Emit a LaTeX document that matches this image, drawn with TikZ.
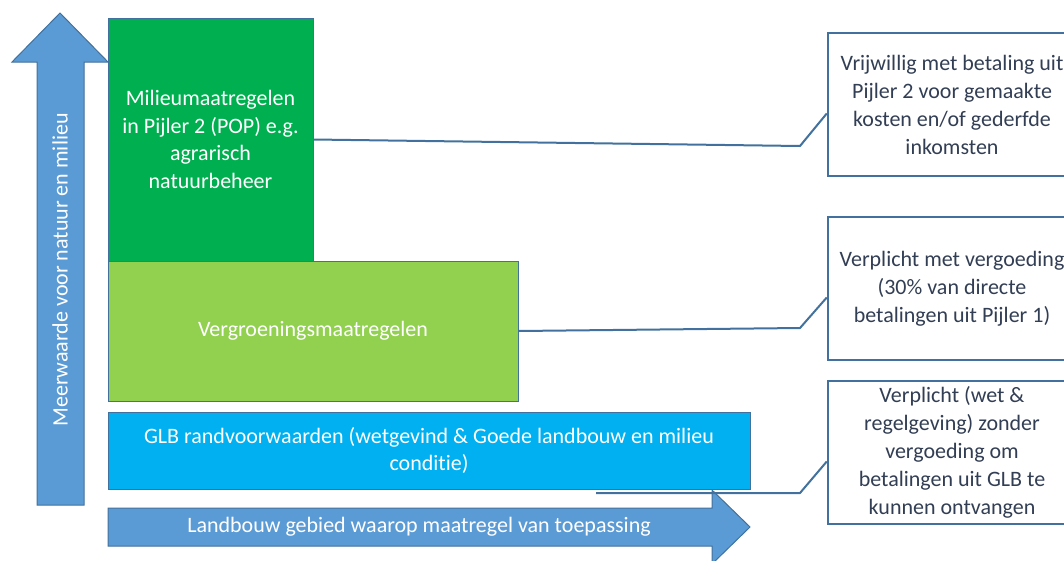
\documentclass[tikz,border=0pt]{standalone}
\usepackage{fontspec}
\setmainfont{Carlito}[Ligatures=NoCommon]
\usetikzlibrary{calc}
\definecolor{arrowblue}{RGB}{91,155,213}
\definecolor{edgeblue}{RGB}{65,113,156}
\definecolor{popgreen}{RGB}{0,176,80}
\definecolor{lightgreen}{RGB}{146,208,80}
\definecolor{glbblue}{RGB}{0,176,240}
\definecolor{notetext}{RGB}{50,62,84}
\tikzset{
  block/.style={
    draw=edgeblue,
    line width=1pt,
    text=white,
    align=center,
    inner sep=0pt,
    font=\fontsize{22}{27.5}\selectfont
  },
  arrowtext/.style={
    text=white,
    inner sep=0pt,
    font=\fontsize{22}{27.5}\selectfont
  },
  note/.style={
    draw=edgeblue,
    line width=2.5pt,
    fill=white,
    text=notetext,
    align=center,
    minimum width=248pt,
    minimum height=143pt,
    inner sep=0pt,
    font=\fontsize{22}{28}\selectfont
  },
  link/.style={draw=edgeblue, line width=2pt, line join=round},
  bigarrow/.style={fill=arrowblue, draw=edgeblue, line width=1pt}
}

\begin{document}
\begin{tikzpicture}[x=1pt,y=-1pt]
  \useasboundingbox (0,0) rectangle (1064,560);
  % the two axis arrows
  \draw[bigarrow] (37,505) -- (37,62) -- (12,62) -- (60,13) -- (108,62)
    -- (84,62) -- (84,505) -- cycle;
  \draw[bigarrow] (108,508) -- (712,508) -- (712,490) -- (750,527)
    -- (712,564) -- (712,546) -- (108,546) -- cycle;
  \node[arrowtext, rotate=90] (meer) at (60,270) {Meerwaarde voor natuur en milieu};
  \node[arrowtext] (land) at (419,527) {Landbouw gebied waarop maatregel van toepassing};

  % the stacked measures
  \node[block, fill=popgreen, minimum width=205pt, minimum height=243pt] (pop)
    at (210.5,139.5) {Milieumaatregelen\\in Pijler 2 (POP) e.g.\\agrarisch\\natuurbeheer};
  \node[block, fill=lightgreen, minimum width=410pt, minimum height=140pt] (verg)
    at (313,331) {Vergroeningsmaatregelen};
  \node[block, fill=glbblue, minimum width=642pt, minimum height=77pt] (glb)
    at (429,450.5) {GLB randvoorwaarden (wetgevind \& Goede landbouw en milieu\\conditie)};

  % notes on the right
  \coordinate (k1) at (800,146);
  \coordinate (k2) at (800,328);
  \coordinate (g3) at (596,493);
  \coordinate (k3) at (800,493);
  \node[note] (c1) at (952,104.5) {Vrijwillig met betaling uit\\Pijler 2 voor gemaakte\\kosten en/of gederfde\\inkomsten};
  \node[note] (c2) at (952,288.5) {Verplicht met vergoeding\\(30\% van directe\\betalingen uit Pijler 1)};
  \node[note] (c3) at (952,452.5) {Verplicht (wet \&\\regelgeving) zonder\\vergoeding om\\betalingen uit GLB te\\kunnen ontvangen};
  \draw[link] (pop.east) -- (k1) -- ([yshift=-9pt]c1.west);
  \draw[link] (verg.east) -- (k2) -- ([yshift=-9pt]c2.west);
  \draw[link] (g3) -- (k3) -- ([yshift=-9pt]c3.west);
\end{tikzpicture}
\end{document}
